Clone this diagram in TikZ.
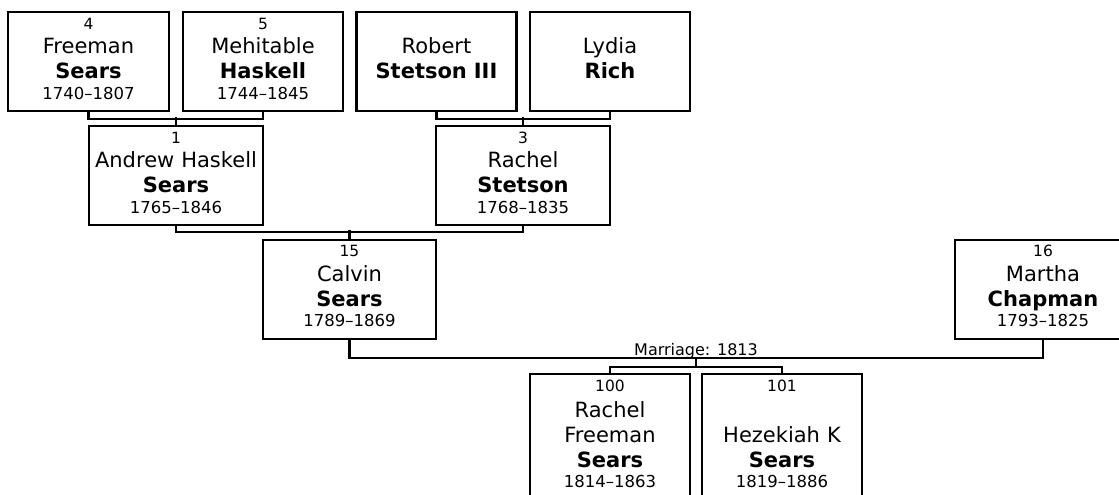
\documentclass[tikz,border=0pt]{standalone}
\usepackage{fontspec}
\setmainfont{DejaVu Sans}
\usepackage{tikz}
\newcommand{\pnum}[1]{{\fontsize{15.5}{25}\selectfont #1}}
\newcommand{\pyrs}[1]{{\fontsize{16.5}{25}\selectfont #1}}
\tikzset{person/.style={draw=black, line width=2.2pt, inner sep=0pt, anchor=north, align=center, text height=17pt, text depth=82pt, font=\fontsize{21}{25}\selectfont},
         link/.style={draw=black, line width=2.2pt}}

\begin{document}
\begin{tikzpicture}[x=1pt, y=1pt]
                \useasboundingbox (0,0) rectangle (1119,-495);
                \clip (0,0) rectangle (1119,-495);
                % grandparents
                \node[person, text width=161pt] (p4) at (88.5,-11) {\pnum{4}\\[-0.5pt]Freeman\\\textbf{Sears}\\[-4.5pt]\pyrs{1740--1807}};
                \node[person, text width=160pt] (p5) at (263,-11) {\pnum{5}\\[-0.5pt]Mehitable\\\textbf{Haskell}\\[-4.5pt]\pyrs{1744--1845}};
                \node[person, text width=160pt] (p6) at (436.5,-11) {\mbox{}\\[-1pt]Robert\\\textbf{Stetson III}};
                \node[person, text width=160pt] (p7) at (610,-11) {\mbox{}\\[-1pt]Lydia\\\textbf{Rich}};
                % parents
                \node[person, text width=174pt] (p1) at (176,-125) {\pnum{1}\\[-0.5pt]Andrew Haskell\\\textbf{Sears}\\[-4.5pt]\pyrs{1765--1846}};
                \node[person, text width=174pt] (p3) at (523,-125) {\pnum{3}\\[-0.5pt]Rachel\\\textbf{Stetson}\\[-4.5pt]\pyrs{1768--1835}};
                % couple
                \node[person, text width=173pt] (p15) at (349.5,-238.5) {\pnum{15}\\[-0.5pt]Calvin\\\textbf{Sears}\\[-4.5pt]\pyrs{1789--1869}};
                \node[person, text width=176pt] (p16) at (1043,-238.5) {\pnum{16}\\[-0.5pt]Martha\\\textbf{Chapman}\\[-4.5pt]\pyrs{1793--1825}};
                % children
                \node[person, text width=160pt, text depth=130pt] (p100) at (610,-373) {\pnum{100}\\[1pt]Rachel\\Freeman\\\textbf{Sears}\\[-5pt]\pyrs{1814--1863}};
                \node[person, text width=160pt, text depth=130pt] (p101) at (782,-373) {\pnum{101}\\[1pt]\mbox{}\\Hezekiah K\\\textbf{Sears}\\[-5pt]\pyrs{1819--1886}};

                \draw[link] (p4.south) -- ++(0,-7) -| (p5.south);
                \draw[link] (p1.north) -- ++(0,8);
                \draw[link] (p6.south) -- ++(0,-7) -| (p7.south);
                \draw[link] (p3.north) -- ++(0,8);
                \draw[link] (p1.south) -- ++(0,-6) -| (p3.south);
                \draw[link] (p15.north) -- ++(0,8.5);

                \coordinate (wed) at (696,-358);
                \coordinate (kids) at (696,-367);
                \draw[link] (p15.south) |- (wed) -| (p16.south);
                \node[anchor=base, inner sep=0pt, font=\fontsize{16}{19}\selectfont] (m1813) at ([yshift=3pt]wed) {Marriage: 1813};
                \draw[link] (wed) -- (kids);
                \draw[link] (p100.north) |- (kids) -| (p101.north);
            \end{tikzpicture}
\end{document}
